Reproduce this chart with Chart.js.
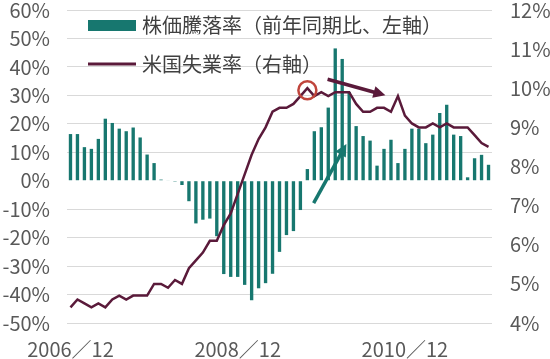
<!DOCTYPE html>
<html>
<head>
<meta charset="utf-8">
<script src="https://cdn.jsdelivr.net/npm/chart.js@4.4.1/dist/chart.umd.min.js"></script>
<style>
  html, body { margin: 0; padding: 0; background: #fff; }
  #wrap { width: 550px; height: 359px; position: relative; }
</style>
</head>
<body>
<div id="wrap"><canvas id="chart"></canvas></div>
<script>
// monthly, 2006/12 .. 2011/12
var months = [];
for (var i = 0; i < 61; i++) {
    var m = (11 + i) % 12 + 1;
    var y = 2006 + Math.floor((11 + i) / 12);
    months.push(y + '／' + (m < 10 ? '0' + m : m));
}

// stock price change, YoY %, left axis
var stockChange = [
    16.4, 16.4, 11.8, 11.2, 14.7, 21.8, 20.3, 18.3, 17.4, 18.7, 15.2, 9.2,
    6.2, 0.4, 0.2, -0.3, -1.5, -7.2, -15.0, -13.7, -13.3, -19.5, -32.8, -33.8,
    -33.8, -36.6, -42.0, -37.8, -36.0, -32.7, -25.0, -19.1, -17.7, -10.3, 4.1, 17.4,
    18.8, 25.7, 46.5, 42.8, 31.2, 19.2, 15.7, 14.1, 5.3, 11.2, 14.4, 6.2,
    11.2, 18.3, 18.3, 13.2, 16.2, 23.8, 26.7, 16.2, 15.7, 1.2, 7.9, 9.1,
    5.6
];

// US unemployment rate %, right axis
var unemployment = [
    4.4, 4.6, 4.5, 4.4, 4.5, 4.4, 4.6, 4.7, 4.6, 4.7, 4.7, 4.7,
    5.0, 5.0, 4.9, 5.1, 5.0, 5.4, 5.6, 5.8, 6.1, 6.1, 6.5, 6.8,
    7.3, 7.8, 8.3, 8.7, 9.0, 9.4, 9.5, 9.5, 9.6, 9.8, 10.0, 9.8,
    9.9, 9.8, 9.9, 9.9, 9.9, 9.6, 9.4, 9.4, 9.5, 9.5, 9.4, 9.8,
    9.3, 9.1, 9.0, 9.0, 9.1, 9.0, 9.1, 9.0, 9.0, 9.0, 8.8, 8.6,
    8.5
];

var seriesNames = ['株価騰落率（前年同期比、左軸）', '米国失業率（右軸）'];
var xTickEvery = 24;

var teal = '#17776f';
var plum = '#5a1a3a';
var font = "'Noto Sans CJK JP', 'Noto Sans', sans-serif";

// callouts drawn on top, in data units
var marks = {
    circle: { x: 34, y: 9.95, axis: 'yR' },
    arrows: [
        { from: [36.9, 10.23], to: [45.2, 9.82], axis: 'yR', color: plum },
        { from: [34.9, -7.9], to: [39.6, 12.9], axis: 'yL', color: teal }
    ]
};

function arrow(ctx, x1, y1, x2, y2, color) {
    var a = Math.atan2(y2 - y1, x2 - x1);
    var hl = 12, hw = 6;
    ctx.save();
    ctx.strokeStyle = color;
    ctx.fillStyle = color;
    ctx.lineWidth = 3.5;
    ctx.beginPath();
    ctx.moveTo(x1, y1);
    ctx.lineTo(x2 - Math.cos(a) * hl * 0.8, y2 - Math.sin(a) * hl * 0.8);
    ctx.stroke();
    ctx.beginPath();
    ctx.moveTo(x2, y2);
    ctx.lineTo(x2 - Math.cos(a) * hl - Math.sin(a) * hw, y2 - Math.sin(a) * hl + Math.cos(a) * hw);
    ctx.lineTo(x2 - Math.cos(a) * hl + Math.sin(a) * hw, y2 - Math.sin(a) * hl - Math.cos(a) * hw);
    ctx.closePath();
    ctx.fill();
    ctx.restore();
}

var extras = {
    id: 'extras',
    afterDatasetsDraw: function (chart) {
        var ctx = chart.ctx, xs = chart.scales.x;
        var c = marks.circle;
        ctx.save();
        ctx.strokeStyle = '#c0453c';
        ctx.lineWidth = 2.5;
        ctx.beginPath();
        ctx.arc(xs.getPixelForValue(c.x), chart.scales[c.axis].getPixelForValue(c.y), 9, 0, Math.PI * 2);
        ctx.stroke();
        ctx.restore();
        marks.arrows.forEach(function (a) {
            var ys = chart.scales[a.axis];
            arrow(ctx, xs.getPixelForValue(a.from[0]), ys.getPixelForValue(a.from[1]),
                xs.getPixelForValue(a.to[0]), ys.getPixelForValue(a.to[1]), a.color);
        });

        // legend, top-left inside the plot
        var ca = chart.chartArea;
        var lx = ca.left + 21, ly = ca.top + 15;
        ctx.save();
        ctx.font = '20px ' + font;
        ctx.textBaseline = 'middle';
        ctx.fillStyle = teal;
        ctx.fillRect(lx, ly - 5, 48, 11);
        ctx.fillStyle = '#404040';
        ctx.fillText(chart.data.datasets[0].label, lx + 54, ly);
        ctx.strokeStyle = plum;
        ctx.lineWidth = 3;
        ctx.beginPath();
        ctx.moveTo(lx, ly + 39);
        ctx.lineTo(lx + 48, ly + 39);
        ctx.stroke();
        ctx.fillText(chart.data.datasets[1].label, lx + 54, ly + 39);
        ctx.restore();
    }
};

window.onload = function () {
    var ctx = document.getElementById('chart').getContext('2d');
    window.theChart = new Chart(ctx, {
        data: {
            labels: months,
            datasets: [
                {
                    type: 'bar',
                    label: seriesNames[0],
                    data: stockChange,
                    yAxisID: 'yL',
                    backgroundColor: teal,
                    barPercentage: 0.48,
                    categoryPercentage: 1,
                    order: 2
                },
                {
                    type: 'line',
                    label: seriesNames[1],
                    data: unemployment,
                    yAxisID: 'yR',
                    borderColor: plum,
                    borderWidth: 2.5,
                    pointRadius: 0,
                    tension: 0,
                    order: 1
                }
            ]
        },
        options: {
            responsive: true,
            maintainAspectRatio: false,
            animation: false,
            layout: { padding: { top: 2, left: 0, right: 0, bottom: 0 } },
            plugins: {
                legend: { display: false },
                tooltip: { enabled: false }
            },
            scales: {
                x: {
                    offset: true,
                    grid: { display: false },
                    border: { display: false },
                    afterFit: function (s) { s.height = 36; },
                    ticks: {
                        autoSkip: false,
                        maxRotation: 0,
                        padding: 6,
                        color: '#595959',
                        font: { family: font, size: 20 },
                        callback: function (v, idx) {
                            return idx % xTickEvery === 0 ? this.getLabelForValue(v) : '';
                        }
                    }
                },
                yL: {
                    position: 'left',
                    min: -50,
                    max: 60,
                    border: { display: false },
                    afterFit: function (s) { s.width = 67; s.paddingTop = 10; s.paddingBottom = 0; },
                    grid: {
                        drawTicks: false,
                        color: function (c) { return c.tick && c.tick.value === 0 ? 'rgba(0,0,0,0)' : '#d9d9d9'; }
                    },
                    ticks: {
                        stepSize: 10,
                        autoSkip: false,
                        padding: 17,
                        color: '#595959',
                        font: { family: font, size: 20, lineHeight: 1 },
                        callback: function (v) { return v + '%'; }
                    }
                },
                yR: {
                    position: 'right',
                    min: 4,
                    max: 12,
                    border: { display: false },
                    afterFit: function (s) { s.width = 58; s.paddingTop = 10; s.paddingBottom = 0; },
                    grid: { drawOnChartArea: false, drawTicks: false },
                    ticks: {
                        stepSize: 1,
                        autoSkip: false,
                        padding: 18,
                        color: '#595959',
                        font: { family: font, size: 20, lineHeight: 1 },
                        callback: function (v) { return v + '%'; }
                    }
                }
            }
        },
        plugins: [extras]
    });
};
</script>
</body>
</html>
